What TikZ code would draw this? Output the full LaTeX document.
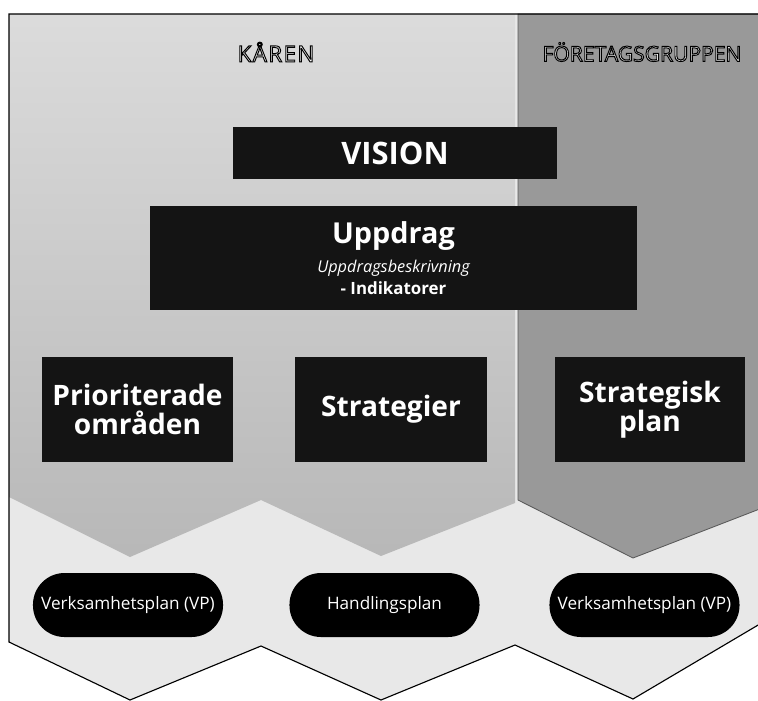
\documentclass[tikz,border=0pt]{standalone}
\usepackage{fontspec}
\setmainfont{Open Sans}
\usetikzlibrary{positioning}

\newcommand{\hollowtext}[1]{{\color{white}\special{pdf:literal direct 2 Tr 0.7 w 0 G}#1\special{pdf:literal direct 0 Tr}}}

\begin{document}
\begin{tikzpicture}[x=0.025cm, y=-0.025cm]
    \tikzstyle{block} = [fill=black!92, text=white, inner sep=0pt, align=center, font=\bfseries]
    \tikzstyle{pill} = [fill=black, text=white, inner sep=0pt, minimum width=4.75cm, minimum height=1.6cm, rounded corners=0.79cm, font=\fontsize{12.2}{14}\selectfont]
    \tikzstyle{heading} = [inner sep=0pt, font=\fontsize{15}{18}\selectfont]
    \useasboundingbox (0,0) rectangle (758,700);
    % background
    \begin{scope}
    \clip (0,0) rectangle (758,700);
    \fill[black!9] (770,14) -- (9,14) -- (9,642) -- (130,700) -- (261,646) -- (381,700) -- (515,645) -- (633,699) -- (770,618) -- cycle;
    \shade[top color=black!14, bottom color=black!28] (9,14) -- (515,14) -- (515,503) -- (381,556) -- (261,500) -- (130,557) -- (9,497) -- cycle;
    \filldraw[fill=black!40, draw=black!65, line width=0.6pt] (518,14) -- (770,14) -- (770,505) -- (633,558) -- (518,500) -- cycle;
    \draw[line width=0.8pt] (770,14) -- (9,14) -- (9,642) -- (130,700) -- (261,646) -- (381,700) -- (515,645) -- (633,699) -- (770,618);
    \end{scope}
    \node[heading, font=\fontsize{16}{18}\selectfont\addfontfeatures{LetterSpace=6}] (karen) at (276,52) {\hollowtext{KÅREN}};
    \node[heading] (foretag) at (642,52) {\hollowtext{FÖRETAGSGRUPPEN}};
    \node[block, minimum width=8.1cm, minimum height=1.3cm, font=\bfseries\fontsize{22}{24}\selectfont] (vision) at (395,153) {VISION};
    \node[block, minimum width=12.175cm, minimum height=2.6cm] (uppdrag) at (393.5,258) {{\fontsize{20.5}{22}\selectfont Uppdrag}\\[6pt]
        {\mdseries\itshape\fontsize{11.6}{14}\selectfont Uppdragsbeskrivning}\\[4pt]
        {\fontsize{12}{14}\selectfont - Indikatorer}};
    \node[block, minimum width=4.775cm, minimum height=2.625cm, font=\bfseries\fontsize{20}{21}\selectfont] (omraden) at (137.5,409.5) {Prioriterade\\områden};
    \node[block, minimum width=4.8cm, minimum height=2.625cm, font=\bfseries\fontsize{20}{21}\selectfont] (strategier) at (391,409.5) {Strategier};
    \node[block, minimum width=4.75cm, minimum height=2.625cm, font=\bfseries\fontsize{20}{21}\selectfont] (stratplan) at (650,409.5) {Strategisk\\plan};
    \node[pill] (vp1) at (128,605) {Verksamhetsplan (VP)};
    \node[pill] (hplan) at (384.5,605) {Handlingsplan};
    \node[pill] (vp2) at (644.5,605) {Verksamhetsplan (VP)};
\end{tikzpicture}
\end{document}
